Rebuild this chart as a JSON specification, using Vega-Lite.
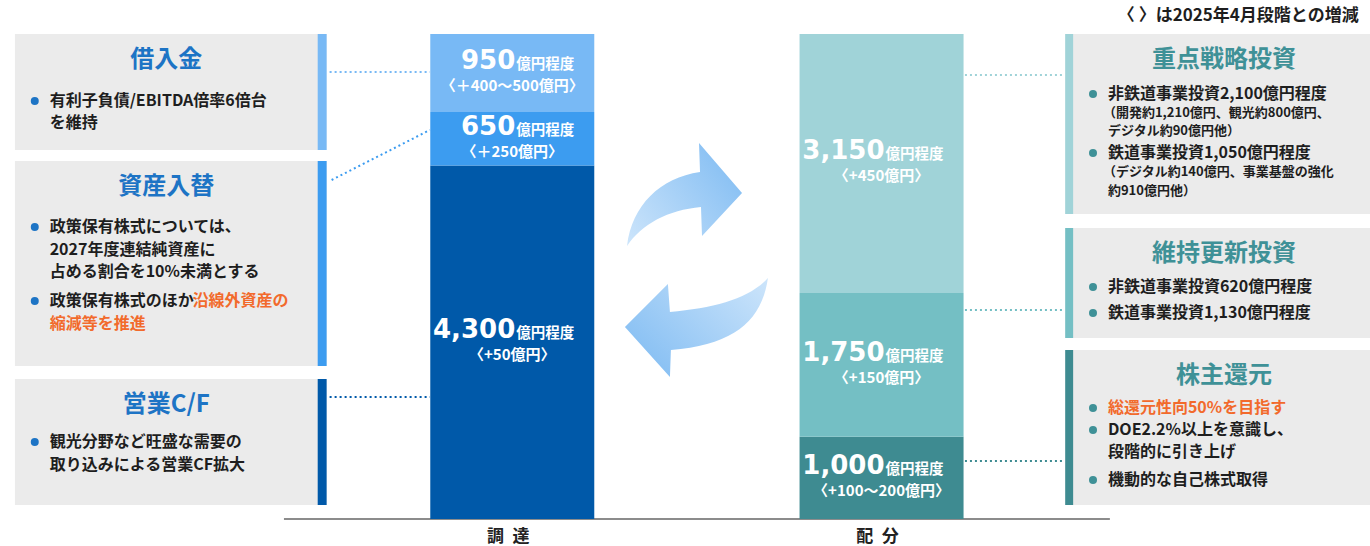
{
  "$schema": "https://vega.github.io/schema/vega-lite/v6.json",
  "width": 1370,
  "height": 546,
  "padding": 0,
  "autosize": "none",
  "background": "white",
  "config": {"view": {"stroke": null}, "text": {"font": "Noto Sans CJK JP"}},
  "resolve": {"scale": {"y": "independent"}},
  "datasets": {
    "segments": [
      {"side": "調達", "item": "営業C/F", "order": 1, "amount": 4300, "change": "〈+50億円〉"},
      {"side": "調達", "item": "資産入替", "order": 2, "amount": 650, "change": "〈＋250億円〉"},
      {"side": "調達", "item": "借入金", "order": 3, "amount": 950, "change": "〈＋400～500億円〉"},
      {"side": "配分", "item": "株主還元", "order": 1, "amount": 1000, "change": "〈+100～200億円〉"},
      {"side": "配分", "item": "維持更新投資", "order": 2, "amount": 1750, "change": "〈+150億円〉"},
      {"side": "配分", "item": "重点戦略投資", "order": 3, "amount": 3150, "change": "〈+450億円〉"}
    ],
    "boxes": [
      {"item": "借入金", "side": "L", "x": 10, "x2": 324, "y": 34, "y2": 150},
      {"item": "資産入替", "side": "L", "x": 10, "x2": 324, "y": 161, "y2": 366},
      {"item": "営業C/F", "side": "L", "x": 10, "x2": 324, "y": 379, "y2": 505},
      {"item": "重点戦略投資", "side": "R", "x": 1068, "x2": 1380, "y": 34, "y2": 214},
      {"item": "維持更新投資", "side": "R", "x": 1068, "x2": 1380, "y": 228, "y2": 338},
      {"item": "株主還元", "side": "R", "x": 1068, "x2": 1380, "y": 350, "y2": 505}
    ],
    "connectors": [
      {"item": "借入金", "x": 327, "y": 72, "x2": 428, "y2": 72},
      {"item": "資産入替", "x": 329, "y": 180, "x2": 428, "y2": 130},
      {"item": "営業C/F", "x": 327, "y": 397, "x2": 428, "y2": 397},
      {"item": "重点戦略投資", "x": 967, "y": 75, "x2": 1066, "y2": 75},
      {"item": "維持更新投資", "x": 967, "y": 310, "x2": 1066, "y2": 310},
      {"item": "株主還元", "x": 967, "y": 461, "x2": 1066, "y2": 461}
    ],
    "notes": [
      {"side": "L", "x": 45, "y": 101, "text": "有利子負債/EBITDA倍率6倍台", "bullet": true, "emphasis": false, "level": "main"},
      {"side": "L", "x": 45, "y": 123, "text": "を維持", "bullet": false, "emphasis": false, "level": "main"},
      {"side": "L", "x": 45, "y": 227, "text": "政策保有株式については、", "bullet": true, "emphasis": false, "level": "main"},
      {"side": "L", "x": 45, "y": 250, "text": "2027年度連結純資産に", "bullet": false, "emphasis": false, "level": "main"},
      {"side": "L", "x": 45, "y": 272, "text": "占める割合を10%未満とする", "bullet": false, "emphasis": false, "level": "main"},
      {"side": "L", "x": 45, "y": 301, "text": "政策保有株式のほか", "bullet": true, "emphasis": false, "level": "main"},
      {"side": "L", "x": 189, "y": 301, "text": "沿線外資産の", "bullet": false, "emphasis": true, "level": "main"},
      {"side": "L", "x": 45, "y": 324, "text": "縮減等を推進", "bullet": false, "emphasis": true, "level": "main"},
      {"side": "L", "x": 45, "y": 442, "text": "観光分野など旺盛な需要の", "bullet": true, "emphasis": false, "level": "main"},
      {"side": "L", "x": 45, "y": 465, "text": "取り込みによる営業CF拡大", "bullet": false, "emphasis": false, "level": "main"},
      {"side": "R", "x": 1111, "y": 94, "text": "非鉄道事業投資2,100億円程度", "bullet": true, "emphasis": false, "level": "main"},
      {"side": "R", "x": 1106, "y": 113, "text": "（開発約1,210億円、観光約800億円、", "bullet": false, "emphasis": false, "level": "sub"},
      {"side": "R", "x": 1111, "y": 131, "text": "デジタル約90億円他）", "bullet": false, "emphasis": false, "level": "sub"},
      {"side": "R", "x": 1111, "y": 153, "text": "鉄道事業投資1,050億円程度", "bullet": true, "emphasis": false, "level": "main"},
      {"side": "R", "x": 1106, "y": 172, "text": "（デジタル約140億円、事業基盤の強化", "bullet": false, "emphasis": false, "level": "sub"},
      {"side": "R", "x": 1111, "y": 191, "text": "約910億円他）", "bullet": false, "emphasis": false, "level": "sub"},
      {"side": "R", "x": 1111, "y": 287, "text": "非鉄道事業投資620億円程度", "bullet": true, "emphasis": false, "level": "main"},
      {"side": "R", "x": 1111, "y": 313, "text": "鉄道事業投資1,130億円程度", "bullet": true, "emphasis": false, "level": "main"},
      {"side": "R", "x": 1111, "y": 408, "text": "総還元性向50%を目指す", "bullet": true, "emphasis": true, "level": "main"},
      {"side": "R", "x": 1111, "y": 430, "text": "DOE2.2%以上を意識し、", "bullet": true, "emphasis": false, "level": "main"},
      {"side": "R", "x": 1111, "y": 452, "text": "段階的に引き上げ", "bullet": false, "emphasis": false, "level": "main"},
      {"side": "R", "x": 1111, "y": 480, "text": "機動的な自己株式取得", "bullet": true, "emphasis": false, "level": "main"}
    ]
  },
  "layer": [
    {
      "data": {"name": "boxes"},
      "mark": {"type": "rect", "color": "#ebebeb"},
      "encoding": {
        "x": {"field": "x", "type": "quantitative", "scale": {"type": "linear", "domain": [0, 1370], "zero": false, "nice": false}, "axis": null},
        "x2": {"field": "x2"},
        "y": {"field": "y", "type": "quantitative", "scale": {"type": "linear", "domain": [0, 546], "reverse": true, "zero": false, "nice": false}, "axis": null},
        "y2": {"field": "y2"}
      }
    },
    {
      "data": {"name": "boxes"},
      "transform": [
        {"calculate": "datum.side === 'L' ? datum.x2 - 9 : datum.x", "as": "sx"},
        {"calculate": "datum.side === 'L' ? datum.x2 : datum.x + 8", "as": "sx2"}
      ],
      "mark": {"type": "rect"},
      "encoding": {
        "x": {"field": "sx", "type": "quantitative", "scale": {"type": "linear", "domain": [0, 1370], "zero": false, "nice": false}, "axis": null},
        "x2": {"field": "sx2"},
        "y": {"field": "y", "type": "quantitative", "scale": {"type": "linear", "domain": [0, 546], "reverse": true, "zero": false, "nice": false}, "axis": null},
        "y2": {"field": "y2"},
        "color": {"field": "item", "type": "nominal", "legend": null, "scale": {"domain": ["借入金", "資産入替", "営業C/F", "重点戦略投資", "維持更新投資", "株主還元"], "range": ["#78b9f5", "#3c9cf0", "#0059a9", "#a0d3d8", "#74bfc4", "#3e8b91"]}}
      }
    },
    {
      "data": {"name": "connectors"},
      "mark": {"type": "rule", "strokeDash": [2, 3], "strokeWidth": 2},
      "encoding": {
        "x": {"field": "x", "type": "quantitative", "scale": {"type": "linear", "domain": [0, 1370], "zero": false, "nice": false}, "axis": null},
        "x2": {"field": "x2"},
        "y": {"field": "y", "type": "quantitative", "scale": {"type": "linear", "domain": [0, 546], "reverse": true, "zero": false, "nice": false}, "axis": null},
        "y2": {"field": "y2"},
        "color": {"field": "item", "type": "nominal", "legend": null}
      }
    },
    {
      "data": {"values": [{"arrow": "top"}]},
      "mark": {
        "type": "point",
        "shape": "M -0.95 0.867 C -0.867 0.183 -0.4 -0.267 0.267 -0.367 L 0.25 -0.85 L 0.967 -0.017 L 0.3 0.7 L 0.283 0.217 C -0.267 0.267 -0.7 0.5 -0.95 0.867 Z",
        "filled": true,
        "size": 14400,
        "opacity": 1,
        "strokeWidth": 0,
        "fill": {"gradient": "linear", "x1": 0, "y1": 1, "x2": 1, "y2": 0.3, "stops": [{"offset": 0, "color": "#cde5fb"}, {"offset": 1, "color": "#86bff3"}]}
      },
      "encoding": {
        "x": {"datum": 684, "type": "quantitative", "scale": {"type": "linear", "domain": [0, 1370], "zero": false, "nice": false}, "axis": null},
        "y": {"datum": 194, "type": "quantitative", "scale": {"type": "linear", "domain": [0, 546], "reverse": true, "zero": false, "nice": false}, "axis": null}
      }
    },
    {
      "data": {"values": [{"arrow": "bottom"}]},
      "mark": {
        "type": "point",
        "shape": "M 1.2 -0.833 C 1.1 -0.133 0.65 0.283 -0.417 0.367 L -0.433 0.817 L -1.183 -0.017 L -0.467 -0.733 L -0.433 -0.267 C 0.317 -0.333 0.9 -0.5 1.2 -0.833 Z",
        "filled": true,
        "size": 14400,
        "opacity": 1,
        "strokeWidth": 0,
        "fill": {"gradient": "linear", "x1": 1, "y1": 0, "x2": 0, "y2": 0.7, "stops": [{"offset": 0, "color": "#cde5fb"}, {"offset": 1, "color": "#86bff3"}]}
      },
      "encoding": {
        "x": {"datum": 696, "type": "quantitative", "scale": {"type": "linear", "domain": [0, 1370], "zero": false, "nice": false}, "axis": null},
        "y": {"datum": 328, "type": "quantitative", "scale": {"type": "linear", "domain": [0, 546], "reverse": true, "zero": false, "nice": false}, "axis": null}
      }
    },
    {
      "data": {"values": [{"line": "base"}]},
      "mark": {"type": "rule", "color": "#666666", "strokeWidth": 1.5},
      "encoding": {
        "x": {"datum": 281, "type": "quantitative", "scale": {"type": "linear", "domain": [0, 1370], "zero": false, "nice": false}, "axis": null},
        "x2": {"datum": 1113},
        "y": {"datum": 519, "type": "quantitative", "scale": {"type": "linear", "domain": [0, 546], "reverse": true, "zero": false, "nice": false}, "axis": null}
      }
    },
    {
      "data": {"name": "segments"},
      "transform": [
        {"filter": "datum.side === '調達'"},
        {"stack": "amount", "groupby": ["side"], "sort": [{"field": "order", "order": "ascending"}], "as": ["v0", "v1"]},
        {"calculate": "(datum.v0 + datum.v1) / 2", "as": "vmid"}
      ],
      "encoding": {
        "x": {"datum": 511, "type": "quantitative", "scale": {"type": "linear", "domain": [0, 1370], "zero": false, "nice": false}, "axis": null}
      },
      "layer": [
        {
          "mark": {"type": "bar", "width": 164},
          "encoding": {
            "y": {"field": "v0", "type": "quantitative", "scale": {"type": "linear", "domain": [-328.5, 6313.6], "zero": false, "nice": false}, "axis": null},
            "y2": {"field": "v1"},
            "color": {"field": "item", "type": "nominal", "legend": null}
          }
        },
        {
          "mark": {"type": "text", "align": "right", "baseline": "alphabetic", "dx": 3, "dy": -4, "font": "DejaVu Sans", "fontWeight": "bold", "fontSize": 26, "color": "white"},
          "encoding": {
            "y": {"field": "vmid", "type": "quantitative", "scale": {"type": "linear", "domain": [-328.5, 6313.6], "zero": false, "nice": false}, "axis": null},
            "text": {"field": "amount", "type": "quantitative", "format": ","}
          }
        },
        {
          "mark": {"type": "text", "align": "left", "baseline": "alphabetic", "dx": 4, "dy": -4, "fontWeight": "bold", "fontSize": 14.5, "color": "white", "text": "億円程度"},
          "encoding": {
            "y": {"field": "vmid", "type": "quantitative", "scale": {"type": "linear", "domain": [-328.5, 6313.6], "zero": false, "nice": false}, "axis": null}
          }
        },
        {
          "mark": {"type": "text", "align": "center", "baseline": "middle", "dy": 13, "fontWeight": "bold", "fontSize": 15, "color": "white"},
          "encoding": {
            "y": {"field": "vmid", "type": "quantitative", "scale": {"type": "linear", "domain": [-328.5, 6313.6], "zero": false, "nice": false}, "axis": null},
            "text": {"field": "change", "type": "nominal"}
          }
        },
        {
          "transform": [
            {"filter": "datum.order === 1"},
            {"calculate": "slice(datum.side, 0, 1) + '\u2002' + slice(datum.side, 1)", "as": "sideLabel"}
          ],
          "mark": {"type": "text", "align": "center", "baseline": "middle", "dx": -4, "fontWeight": "bold", "fontSize": 17, "color": "#222222"},
          "encoding": {
            "y": {"datum": -219, "type": "quantitative", "scale": {"type": "linear", "domain": [-328.5, 6313.6], "zero": false, "nice": false}, "axis": null},
            "text": {"field": "sideLabel", "type": "nominal"}
          }
        }
      ]
    },
    {
      "data": {"name": "segments"},
      "transform": [
        {"filter": "datum.side === '配分'"},
        {"stack": "amount", "groupby": ["side"], "sort": [{"field": "order", "order": "ascending"}], "as": ["v0", "v1"]},
        {"calculate": "(datum.v0 + datum.v1) / 2", "as": "vmid"}
      ],
      "encoding": {
        "x": {"datum": 883, "type": "quantitative", "scale": {"type": "linear", "domain": [0, 1370], "zero": false, "nice": false}, "axis": null}
      },
      "layer": [
        {
          "mark": {"type": "bar", "width": 164},
          "encoding": {
            "y": {"field": "v0", "type": "quantitative", "scale": {"type": "linear", "domain": [-328.5, 6313.6], "zero": false, "nice": false}, "axis": null},
            "y2": {"field": "v1"},
            "color": {"field": "item", "type": "nominal", "legend": null}
          }
        },
        {
          "mark": {"type": "text", "align": "right", "baseline": "alphabetic", "dx": 3, "dy": -4, "font": "DejaVu Sans", "fontWeight": "bold", "fontSize": 26, "color": "white"},
          "encoding": {
            "y": {"field": "vmid", "type": "quantitative", "scale": {"type": "linear", "domain": [-328.5, 6313.6], "zero": false, "nice": false}, "axis": null},
            "text": {"field": "amount", "type": "quantitative", "format": ","}
          }
        },
        {
          "mark": {"type": "text", "align": "left", "baseline": "alphabetic", "dx": 4, "dy": -4, "fontWeight": "bold", "fontSize": 14.5, "color": "white", "text": "億円程度"},
          "encoding": {
            "y": {"field": "vmid", "type": "quantitative", "scale": {"type": "linear", "domain": [-328.5, 6313.6], "zero": false, "nice": false}, "axis": null}
          }
        },
        {
          "mark": {"type": "text", "align": "center", "baseline": "middle", "dy": 13, "fontWeight": "bold", "fontSize": 15, "color": "white"},
          "encoding": {
            "y": {"field": "vmid", "type": "quantitative", "scale": {"type": "linear", "domain": [-328.5, 6313.6], "zero": false, "nice": false}, "axis": null},
            "text": {"field": "change", "type": "nominal"}
          }
        },
        {
          "transform": [
            {"filter": "datum.order === 1"},
            {"calculate": "slice(datum.side, 0, 1) + '\u2002' + slice(datum.side, 1)", "as": "sideLabel"}
          ],
          "mark": {"type": "text", "align": "center", "baseline": "middle", "dx": -4, "fontWeight": "bold", "fontSize": 17, "color": "#222222"},
          "encoding": {
            "y": {"datum": -219, "type": "quantitative", "scale": {"type": "linear", "domain": [-328.5, 6313.6], "zero": false, "nice": false}, "axis": null},
            "text": {"field": "sideLabel", "type": "nominal"}
          }
        }
      ]
    },
    {
      "data": {"name": "boxes"},
      "transform": [
        {"calculate": "datum.side === 'L' ? (datum.x + datum.x2 - 9) / 2 : (datum.x + 8 + datum.x2) / 2", "as": "cx"},
        {"calculate": "datum.y + 26", "as": "ty"}
      ],
      "mark": {"type": "text", "align": "center", "baseline": "middle", "fontWeight": "bold", "fontSize": 24},
      "encoding": {
        "x": {"field": "cx", "type": "quantitative", "scale": {"type": "linear", "domain": [0, 1370], "zero": false, "nice": false}, "axis": null},
        "y": {"field": "ty", "type": "quantitative", "scale": {"type": "linear", "domain": [0, 546], "reverse": true, "zero": false, "nice": false}, "axis": null},
        "text": {"field": "item", "type": "nominal"},
        "color": {"condition": {"test": "datum.side === 'L'", "value": "#1d74c5"}, "value": "#3f9197"}
      }
    },
    {
      "data": {"name": "notes"},
      "transform": [{"filter": "datum.level === 'main'"}],
      "mark": {"type": "text", "align": "left", "baseline": "middle", "fontWeight": "bold", "fontSize": 16},
      "encoding": {
        "x": {"field": "x", "type": "quantitative", "scale": {"type": "linear", "domain": [0, 1370], "zero": false, "nice": false}, "axis": null},
        "y": {"field": "y", "type": "quantitative", "scale": {"type": "linear", "domain": [0, 546], "reverse": true, "zero": false, "nice": false}, "axis": null},
        "text": {"field": "text", "type": "nominal"},
        "color": {"condition": {"test": "datum.emphasis === true", "value": "#f26a2c"}, "value": "#1e1e1e"}
      }
    },
    {
      "data": {"name": "notes"},
      "transform": [{"filter": "datum.level === 'sub'"}],
      "mark": {"type": "text", "align": "left", "baseline": "middle", "fontWeight": "bold", "fontSize": 13, "color": "#1e1e1e"},
      "encoding": {
        "x": {"field": "x", "type": "quantitative", "scale": {"type": "linear", "domain": [0, 1370], "zero": false, "nice": false}, "axis": null},
        "y": {"field": "y", "type": "quantitative", "scale": {"type": "linear", "domain": [0, 546], "reverse": true, "zero": false, "nice": false}, "axis": null},
        "text": {"field": "text", "type": "nominal"}
      }
    },
    {
      "data": {"name": "notes"},
      "transform": [{"filter": "datum.bullet === true"}, {"calculate": "datum.x - 15", "as": "bx"}],
      "mark": {"type": "point", "shape": "circle", "filled": true, "size": 64, "opacity": 1},
      "encoding": {
        "x": {"field": "bx", "type": "quantitative", "scale": {"type": "linear", "domain": [0, 1370], "zero": false, "nice": false}, "axis": null},
        "y": {"field": "y", "type": "quantitative", "scale": {"type": "linear", "domain": [0, 546], "reverse": true, "zero": false, "nice": false}, "axis": null},
        "color": {"condition": {"test": "datum.side === 'L'", "value": "#1d74c5"}, "value": "#3f9197"}
      }
    },
    {
      "data": {"values": [{"note": "〈 〉は2025年4月段階との増減"}]},
      "mark": {"type": "text", "align": "left", "baseline": "middle", "fontWeight": "bold", "fontSize": 17, "color": "#1e1e1e"},
      "encoding": {
        "x": {"datum": 1121, "type": "quantitative", "scale": {"type": "linear", "domain": [0, 1370], "zero": false, "nice": false}, "axis": null},
        "y": {"datum": 16, "type": "quantitative", "scale": {"type": "linear", "domain": [0, 546], "reverse": true, "zero": false, "nice": false}, "axis": null},
        "text": {"field": "note", "type": "nominal"}
      }
    }
  ]
}
